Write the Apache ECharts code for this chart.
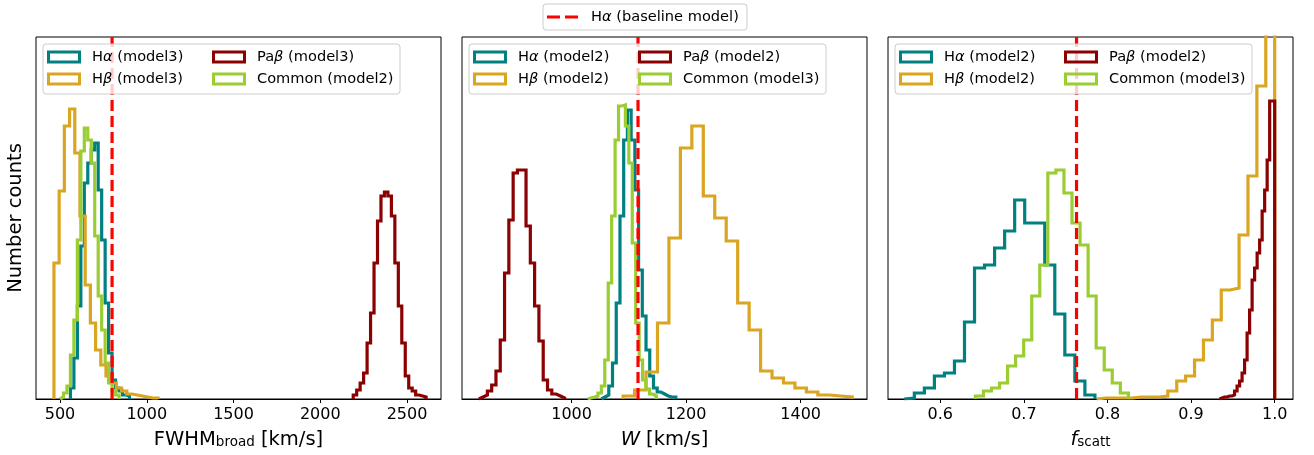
<!DOCTYPE html>
<html>
<head>
<meta charset="utf-8">
<script src="https://cdn.jsdelivr.net/npm/echarts@6/dist/echarts.min.js"></script>
<style>
html,body{margin:0;padding:0;background:#fff;}
#main{width:1314px;height:455px;}
</style>
</head>
<body>
<div id="main"></div>
<script>
(function(){

    var colors = ['#008080','#DAA520','#8B0000','#9ACD32'];
    var baseColor = '#FF0000';
    var baseName = 'Hα (baseline model)';

    // panel 1 : FWHM_broad
    var p1Names = ['Hα (model3)','Hβ (model3)','Paβ (model3)','Common (model2)'];
    var p1HaRange = [560, 900];
    var p1HaCounts = [11,41,93,153,216,236,249,256,209,159,96,46,19,11,8,4,3];
    var p1HbRange = [465, 1065];
    var p1HbCounts = [136,208,273,290,246,183,114,76,49,34,23,16,11,8,5,4,3,2,1,1];
    var p1PbRange = [2190, 2610];
    var p1PbCounts = [4,9,16,26,56,86,136,178,203,207,203,183,136,93,56,23,11,8,4,3,2];
    var p1CoRange = [500, 840];
    var p1CoCounts = [2,6,13,44,79,159,248,271,259,236,163,103,69,36,16,8,4];

    // panel 2 : W
    var p2Names = ['Hα (model2)','Hβ (model2)','Paβ (model2)','Common (model3)'];
    var p2HaRange = [1052, 1182];
    var p2HaCounts = [2,4,13,36,96,183,259,289,259,209,129,83,49,23,11,7,5,3,2,2];
    var p2HbRange = [1090, 1490];
    var p2HbCounts = [3,9,27,76,161,251,273,203,181,158,96,69,28,21,16,11,7,4,3,2];
    var p2PbRange = [838, 988];
    var p2PbCounts = [2,4,8,14,28,59,126,179,226,229,229,173,136,93,58,19,9,5,3,1];
    var p2CoRange = [1028, 1148];
    var p2CoCounts = [1,2,3,6,13,39,116,183,259,293,294,273,236,156,76,39,19,10,5,3];

    // panel 3 : f_scatt
    var p3Names = ['Hα (model2)','Hβ (model2)','Paβ (model2)','Common (model3)'];
    var p3HaRange = [0.557, 0.785];
    var p3HaCounts = [1,6,11,23,26,38,77,131,134,151,168,199,176,176,134,85,44,18,4];
    var p3HbRange = [0.787, 1.0];
    var p3HbCounts = [1,1,1,1,2,2,2,3,8,18,23,39,59,79,109,111,164,223,313,430];
    var p3PbRange = [0.934, 1.0];
    var p3PbCounts = [1,2,2,3,3,4,8,13,18,26,39,66,89,119,131,146,159,188,209,239,298,298];
    var p3CoRange = [0.642, 0.825];
    var p3CoCounts = [3,8,11,16,33,43,59,103,134,226,229,206,176,154,103,51,29,16,6];

    var baseline = [800, 1116, 0.763];
    var xMin = [361.5, 808.7, 0.5375];
    var xMax = [2696, 1515.8, 1.0219];
    var xTicks = [[500,1000,1500,2000,2500],[1000,1200,1400],[0.6,0.7,0.8,0.9,1.0]];
    var yMax = 362;

    var panels = [
        {names:p1Names, ranges:[p1HaRange,p1HbRange,p1PbRange,p1CoRange], counts:[p1HaCounts,p1HbCounts,p1PbCounts,p1CoCounts]},
        {names:p2Names, ranges:[p2HaRange,p2HbRange,p2PbRange,p2CoRange], counts:[p2HaCounts,p2HbCounts,p2PbCounts,p2CoCounts]},
        {names:p3Names, ranges:[p3HaRange,p3HbRange,p3PbRange,p3CoRange], counts:[p3HaCounts,p3HbCounts,p3PbCounts,p3CoCounts]}
    ];

    var font = 'DejaVu Sans';
    var legendSize = 14.6;
    var panelLeft = [36, 462, 888];
    var panelW = 405, panelTop = 37, panelH = 362;
    var boxIcon = 'path://M0,0H34V13H0Z M3,3V10H31V3Z';
    var dashIcon = 'path://M0,0H13V3H0Z M18,0H31V3H18Z';

    var xNames = [
        '{m|FWHM}{s|broad}{m| [km/s]}',
        '{i|W}{m| [km/s]}',
        '{i|f}{s|scatt}'
    ];
    var nameRich = {
        m:{fontSize:19.5, fontFamily:font, color:'#000', verticalAlign:'top', lineHeight:22},
        i:{fontSize:19.5, fontFamily:font, fontStyle:'italic', color:'#000', verticalAlign:'top', lineHeight:22},
        s:{fontSize:13.5, fontFamily:font, color:'#000', verticalAlign:'top', lineHeight:22, padding:[5,0,0,0]}
    };

    // matplotlib style step outline: up at first edge, down at last edge
    function histPoints(range, counts){
        var n = counts.length;
        var w = (range[1]-range[0])/n;
        var pts = [[range[0],0]];
        for(var i=0;i<n;i++){
            pts.push([range[0]+i*w, counts[i]]);
        }
        pts.push([range[1],0]);
        return pts;
    }

    function greek(name){
        return name.replace(/([αβ])/g,'{g|$1}');
    }

    function legendItem(name, color, icon){
        return {name:name, icon:icon, itemStyle:{color:color}};
    }

    function makeLegend(left, top, items, iconW, iconH, pad){
        return {
            left:left, top:top, orient:'vertical', padding:0,
            itemGap:6, itemWidth:iconW, itemHeight:iconH,
            selectedMode:false,
            data:items,
            formatter:greek,
            textStyle:{
                fontSize:legendSize, fontFamily:font, color:'#000', lineHeight:16,
                padding:[0,0,0,pad],
                rich:{g:{fontSize:legendSize, fontFamily:font, fontStyle:'italic', color:'#000', lineHeight:16}}
            }
        };
    }

    var grids=[], xAxes=[], yAxes=[], series=[], legends=[], graphics=[];

    for(var k=0;k<3;k++){
        var L = panelLeft[k];
        grids.push({left:L, top:panelTop, width:panelW, height:panelH,
            show:true, borderColor:'#000', borderWidth:1, backgroundColor:'transparent'});
        xAxes.push({
            gridIndex:k, type:'value', min:xMin[k], max:xMax[k],
            name:xNames[k], nameLocation:'middle', nameGap:31,
            nameTextStyle:{rich:nameRich},
            axisLine:{show:true, onZero:false, lineStyle:{color:'#000', width:1}},
            axisTick:{show:true, length:4, lineStyle:{color:'#000'}, customValues:xTicks[k]},
            axisLabel:{fontSize:16, fontFamily:font, color:'#000', margin:8, customValues:xTicks[k],
                formatter:(k===2 ? function(v){return v.toFixed(1);} : function(v){return String(v);})},
            splitLine:{show:false}
        });
        yAxes.push({
            gridIndex:k, type:'value', min:0, max:yMax,
            name:(k===0 ? 'Number counts' : ''), nameLocation:'middle', nameGap:10,
            nameTextStyle:{fontSize:19.5, fontFamily:font, color:'#000'},
            axisLine:{show:false}, axisTick:{show:false}, axisLabel:{show:false}, splitLine:{show:false}
        });

        var p = panels[k];
        for(var j=0;j<4;j++){
            series.push({
                name:p.names[j], type:'line', xAxisIndex:k, yAxisIndex:k,
                step:'end', symbol:'none', color:colors[j], silent:true, z:2,
                lineStyle:{width:3.2, color:colors[j], join:'miter', cap:'butt'},
                data:histPoints(p.ranges[j], p.counts[j])
            });
        }
        series.push({
            name:baseName, type:'line', xAxisIndex:k, yAxisIndex:k,
            symbol:'none', color:baseColor, silent:true, z:2,
            lineStyle:{width:3.2, color:baseColor, type:[11,5]},
            data:[[baseline[k],0],[baseline[k],yMax]]
        });

        // legend frame
        graphics.push({type:'rect', z:3, silent:true,
            shape:{x:L+7, y:44, width:357, height:50, r:3},
            style:{fill:'rgba(255,255,255,0.8)', stroke:'#cccccc', lineWidth:1}});
        legends.push(makeLegend(L+11, 49,
            [legendItem(p.names[0],colors[0],boxIcon), legendItem(p.names[1],colors[1],boxIcon)], 34, 13, 6));
        legends.push(makeLegend(L+176, 49,
            [legendItem(p.names[2],colors[2],boxIcon), legendItem(p.names[3],colors[3],boxIcon)], 34, 13, 6));
    }

    graphics.push({type:'rect', z:3, silent:true,
        shape:{x:543, y:4, width:204, height:26, r:3},
        style:{fill:'rgba(255,255,255,0.8)', stroke:'#cccccc', lineWidth:1}});
    legends.push(makeLegend(547, 9, [legendItem(baseName, baseColor, dashIcon)], 31, 3, 8));

    var chart = echarts.init(document.getElementById('main'), null, {renderer:'canvas'});
    chart.setOption({
        animation:false,
        backgroundColor:'#fff',
        grid:grids,
        xAxis:xAxes,
        yAxis:yAxes,
        legend:legends,
        graphic:graphics,
        series:series
    });

})();
</script>
</body>
</html>
